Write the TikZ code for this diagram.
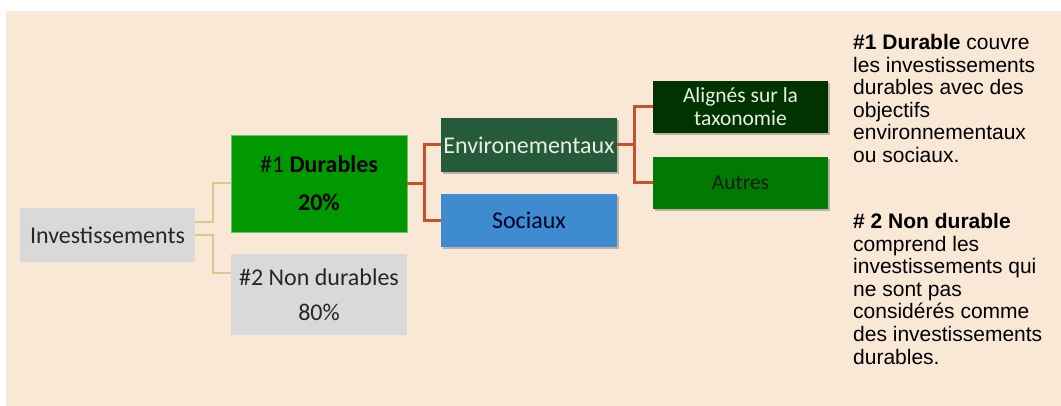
\documentclass[tikz,border=0pt]{standalone}
\usepackage{fontspec}
\setmainfont{Carlito}
\newfontfamily\arialf{Liberation Sans}
\usetikzlibrary{shadows,calc}
\definecolor{bg}{HTML}{FAE8D7}
\definecolor{greyb}{HTML}{D9D9D9}
\definecolor{durg}{HTML}{009900}
\definecolor{envg}{HTML}{255A3A}
\definecolor{alig}{HTML}{003300}
\definecolor{autg}{HTML}{007A00}
\definecolor{socb}{HTML}{3F8BD0}
\definecolor{tanc}{HTML}{D8C98E}
\definecolor{redc}{HTML}{C9502D}
\definecolor{darktxt}{HTML}{262626}
\definecolor{lighttxt}{HTML}{E8F0E4}
\begin{document}
\begin{tikzpicture}[x=1pt,y=1pt,
  box/.style={rectangle, inner sep=0pt, align=center, text=darktxt,
    font=\fontsize{24}{36}\selectfont},
  small/.style={font=\fontsize{21.5}{23}\selectfont},
  sh/.style={drop shadow={shadow xshift=2pt,shadow yshift=-2.5pt,opacity=0.35,fill=black!70}},
  tanline/.style={draw=tanc, line width=2pt},
  redline/.style={draw=redc, line width=3pt},
  note/.style={inner sep=0pt, align=left, anchor=north west, text=black,
    font=\arialf\fontsize{21}{22.6}\selectfont},
]
\useasboundingbox (0,0) rectangle (1061,406);
\fill[bg] (6,0) rectangle (1061,395);

\node[box, fill=greyb, minimum width=175, minimum height=54] (inv) at (107.5,171) {Investissements};
\node[box, fill=durg, draw=durg!60!white, line width=0.6pt, text=black, minimum width=176, minimum height=97,
  font=\fontsize{24}{38}\selectfont] (dur) at (319,222.5) {\#1 \textbf{Durables}\\\textbf{20\%}};
\node[box, fill=greyb, minimum width=176, minimum height=81,
  font=\fontsize{24}{35}\selectfont] (non) at (319,111.5) {\#2 Non durables\\80\%};
\node[box, sh, fill=envg, text=lighttxt, minimum width=176, minimum height=54] (env) at (529,261) {Environementaux};
\node[box, sh, fill=socb, text=black!85!blue, minimum width=176, minimum height=53] (soc) at (529,185.5) {Sociaux};
\node[box, small, sh, fill=alig, text=lighttxt, minimum width=175, minimum height=52] (ali) at (740.5,299) {Alignés sur la\\taxonomie};
\node[box, small, sh, fill=autg, text=black!90, minimum width=175, minimum height=52] (aut) at (740.5,223) {Autres};

\draw[tanline] ($(inv.east)+(0,13)$) -- ++(18,0) |- (dur.west);
\draw[tanline] (inv.east) -- ++(18,0) |- ($(non.west)+(0,21.5)$);
\draw[redline] (dur.east) -- ++(17,0) |- (env.west);
\draw[redline] (dur.east) -- ++(17,0) |- (soc.west);
\draw[redline] (env.east) -- ++(17,0) |- (ali.west);
\draw[redline] (env.east) -- ++(17,0) |- (aut.west);

\node[note] (n1) at (853,372) {\textbf{\#1 Durable} couvre\\les investissements\\durables avec des\\objectifs\\environnementaux\\ou sociaux.};
\node[note] (n2) at (853,193) {\textbf{\# 2 Non durable}\\comprend les\\investissements qui\\ne sont pas\\considérés comme\\des investissements\\durables.};
\end{tikzpicture}
\end{document}
